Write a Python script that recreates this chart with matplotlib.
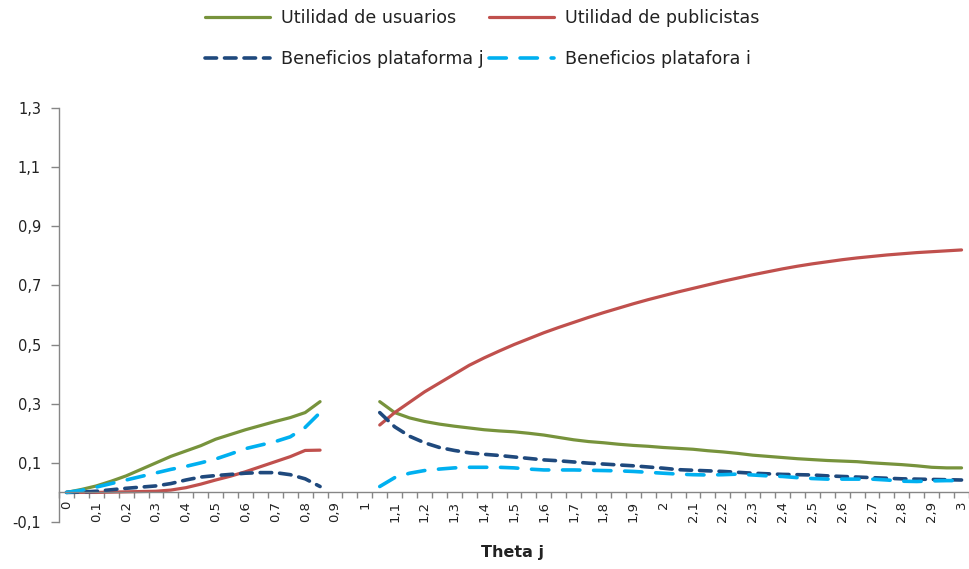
import numpy as np
import matplotlib
matplotlib.use('Agg')
import matplotlib.pyplot as plt

plt.rcParams['font.family'] = ['DejaVu Sans']

# categories: theta j from 0 to 3 in steps of 0.05 (no solution between 0.9 and 1)
theta = np.round(np.arange(0, 3.001, 0.05), 2)

utilidad_usuarios = [
    0.0, 0.01, 0.022, 0.038, 0.056, 0.078, 0.1, 0.122, 0.14, 0.158,
    0.18, 0.196, 0.212, 0.226, 0.24, 0.253, 0.27, 0.307,
    None, None, None,
    0.307, 0.27, 0.252, 0.24, 0.231, 0.224, 0.218, 0.212, 0.208, 0.205,
    0.2, 0.194, 0.186, 0.178, 0.172, 0.168, 0.163, 0.159, 0.156, 0.152,
    0.149, 0.146, 0.141, 0.137, 0.132, 0.126, 0.122, 0.118, 0.114, 0.111,
    0.108, 0.106, 0.104, 0.1, 0.097, 0.094, 0.09, 0.085, 0.083, 0.083,
]
utilidad_publicistas = [
    0.0, 0.0, 0.0, 0.001, 0.002, 0.003, 0.004, 0.008, 0.016, 0.028,
    0.042, 0.055, 0.07, 0.087, 0.104, 0.121, 0.142, 0.143,
    None, None, None,
    0.228, 0.27, 0.305, 0.34, 0.37, 0.40, 0.43, 0.455, 0.478, 0.50,
    0.52, 0.54, 0.558, 0.575, 0.592, 0.608, 0.623, 0.638, 0.652, 0.665,
    0.678, 0.69, 0.702, 0.714, 0.725, 0.736, 0.746, 0.756, 0.765, 0.773,
    0.78, 0.787, 0.793, 0.798, 0.803, 0.807, 0.811, 0.814, 0.817, 0.82,
]
beneficios_j = [
    0.0, 0.001, 0.004, 0.009, 0.014, 0.018, 0.022, 0.03, 0.042, 0.052,
    0.057, 0.061, 0.065, 0.067, 0.067, 0.06, 0.046, 0.02,
    None, None, None,
    0.27, 0.222, 0.19, 0.168, 0.152, 0.142, 0.134, 0.129, 0.125, 0.12,
    0.115, 0.11, 0.107, 0.103, 0.099, 0.096, 0.093, 0.09, 0.086, 0.082,
    0.077, 0.075, 0.073, 0.071, 0.068, 0.065, 0.063, 0.061, 0.06, 0.059,
    0.056, 0.054, 0.052, 0.05, 0.048, 0.046, 0.045, 0.044, 0.043, 0.042,
]
beneficios_i = [
    0.0, 0.007, 0.018, 0.03, 0.042, 0.054, 0.066, 0.078, 0.088, 0.1,
    0.113, 0.13, 0.148, 0.16, 0.172, 0.188, 0.22, 0.27,
    None, None, None,
    0.02, 0.05, 0.065, 0.074, 0.079, 0.083, 0.085, 0.085, 0.085, 0.083,
    0.079, 0.076, 0.076, 0.076, 0.075, 0.074, 0.073, 0.071, 0.068, 0.065,
    0.062, 0.06, 0.059, 0.06, 0.062, 0.059, 0.056, 0.054, 0.05, 0.047,
    0.045, 0.045, 0.045, 0.045, 0.042, 0.038, 0.037, 0.039, 0.04, 0.04,
]

labels = ['Utilidad de usuarios', 'Utilidad de publicistas',
          'Beneficios plataforma j', 'Beneficios platafora i']
colors = ['#77933C', '#C0504D', '#1F497D', '#00B0F0']
yticks = [-0.1, 0.1, 0.3, 0.5, 0.7, 0.9, 1.1, 1.3]

fig = plt.figure(figsize=(9.69, 5.69), dpi=100)
ax = fig.add_axes([0.0609, 0.0826, 0.9391, 0.7276])

series = [utilidad_usuarios, utilidad_publicistas, beneficios_j, beneficios_i]
styles = [dict(lw=2.3),
          dict(lw=2.3),
          dict(lw=2.6, dashes=(3.2, 2.2), dash_capstyle='round'),
          dict(lw=2.6, dashes=(4.8, 3.8), dash_capstyle='round')]
handles = []
for vals, col, lab, st in zip(series, colors, labels, styles):
    y = np.array(vals, dtype=float)
    line, = ax.plot(theta, y, color=col, label=lab, solid_capstyle='round', **st)
    handles.append(line)

ax.set_xlim(-0.025, 3.025)
ax.set_ylim(-0.1, 1.3)

# category axis sits on y = 0, ticks between categories
ax.spines['top'].set_visible(False)
ax.spines['right'].set_visible(False)
ax.spines['bottom'].set_position(('data', 0))
for sp in ('left', 'bottom'):
    ax.spines[sp].set_color('#868686')
    ax.spines[sp].set_linewidth(1.0)

xt = theta[::2]
ax.set_xticks(xt)
ax.set_xticklabels([('%g' % v).replace('.', ',') for v in xt],
                   rotation=90, fontsize=9.5, color='#222222')
ax.set_xticks(np.arange(-0.025, 3.03, 0.05), minor=True)
ax.tick_params(axis='x', which='major', length=0, pad=6)
ax.tick_params(axis='x', which='minor', length=4, color='#868686', width=1)

ax.set_yticks(yticks)
ax.set_yticklabels([('%.1f' % v).replace('.', ',') for v in yticks],
                   fontsize=10.5, color='#222222')
ax.tick_params(axis='y', length=6, color='#868686', width=1, pad=7)

fig.text(0.529, 1 - 552 / 569, 'Theta j', ha='center', va='center',
         fontsize=11.5, fontweight='bold', color='#222222')

# legend: two rows, two columns above the plot (ncol fills column-wise)
order = [0, 2, 1, 3]
leg = fig.legend(handles=[handles[k] for k in order],
                 labels=[labels[k] for k in order], loc='center left',
                 bbox_to_anchor=(0.2116, 1 - 38.5 / 569), ncol=2, frameon=False,
                 fontsize=12.6, handlelength=3.7, handletextpad=0.65,
                 columnspacing=0.3, labelspacing=1.35,
                 borderpad=0, borderaxespad=0)
for t in leg.get_texts():
    t.set_color('#222222')

fig.savefig('out.png', dpi=100)
